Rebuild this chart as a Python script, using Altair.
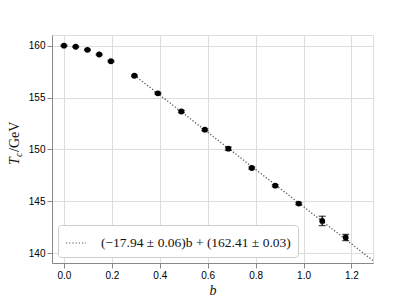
import altair as alt
import pandas as pd

# data
b_vals = [0.0, 0.049, 0.098, 0.147, 0.196, 0.294, 0.392, 0.49, 0.588, 0.686, 0.784, 0.882, 0.98, 1.078, 1.176]
tc_vals = [160.0, 159.9, 159.6, 159.15, 158.5, 157.1, 155.4, 153.65, 151.9, 150.07, 148.2, 146.5, 144.77, 143.1, 141.5]
tc_err = [0.05, 0.05, 0.06, 0.06, 0.07, 0.08, 0.08, 0.1, 0.1, 0.15, 0.1, 0.1, 0.1, 0.45, 0.3]

fit_b = [0.294, 1.29]
fit_tc = [157.14, 139.27]
fit_label = "(\u221217.94 \u00b1 0.06)b + (162.41 \u00b1 0.03)"

x_ticks = [0.0, 0.2, 0.4, 0.6, 0.8, 1.0, 1.2]
y_ticks = [140, 145, 150, 155, 160]

df = pd.DataFrame({"b": b_vals, "tc": tc_vals, "err": tc_err})
df["lo"] = df["tc"] - df["err"]
df["hi"] = df["tc"] + df["err"]
fit_df = pd.DataFrame({"b": fit_b, "tc": fit_tc, "label": [fit_label] * len(fit_b)})

SERIF = "Liberation Serif"

xscale = alt.Scale(domain=[-0.05, 1.29], nice=False, zero=False)
yscale = alt.Scale(domain=[139.04, 161.03], nice=False, zero=False)

xaxis = alt.Axis(values=x_ticks, format=".1f", title="b", titleFontStyle="italic",
                 titleFont=SERIF, titleFontSize=14, titleFontWeight="normal", titlePadding=3,
                 titleColor="#111111")
yaxis = alt.Axis(values=y_ticks, format="d", title=None)

line = alt.Chart(fit_df).mark_line(strokeDash=[1.2, 2], strokeWidth=1.3, clip=True).encode(
    x=alt.X("b:Q", scale=xscale, axis=xaxis),
    y=alt.Y("tc:Q", scale=yscale, axis=yaxis),
    color=alt.Color("label:N", scale=alt.Scale(range=["#555555"]), title=None,
                    legend=alt.Legend(orient="bottom-left", offset=6, fillColor="white",
                                      strokeColor="#cccccc", cornerRadius=3, padding=7,
                                      symbolType="stroke", symbolSize=400, symbolStrokeWidth=1.2,
                                      symbolDash=[1.2, 2], symbolStrokeColor="#555555",
                                      labelFont=SERIF, labelFontSize=13.5, labelColor="#111111",
                                      labelOffset=14, labelLimit=400)),
)

bars = alt.Chart(df).mark_rule(color="black", strokeWidth=1.3).encode(
    x="b:Q", y="lo:Q", y2="hi:Q"
)
cap_lo = alt.Chart(df).mark_tick(color="black", orient="horizontal", size=7, thickness=1.3).encode(
    x="b:Q", y="lo:Q"
)
cap_hi = alt.Chart(df).mark_tick(color="black", orient="horizontal", size=7, thickness=1.3).encode(
    x="b:Q", y="hi:Q"
)
pts = alt.Chart(df).mark_circle(color="black", size=34, opacity=1).encode(
    x="b:Q", y="tc:Q"
)

# y-axis title with subscript: T_c/GeV
t_main = alt.Chart(pd.DataFrame({"t": ["T"]})).mark_text(
    angle=270, align="left", baseline="alphabetic", font=SERIF,
    fontStyle="italic", fontSize=14, color="#111111").encode(
    text="t:N", x=alt.value(-33), y=alt.value(130))
t_sub = alt.Chart(pd.DataFrame({"t": ["c"]})).mark_text(
    angle=270, align="left", baseline="alphabetic",
    font=SERIF, fontStyle="italic", fontSize=10, color="#111111").encode(
    text="t:N", x=alt.value(-30), y=alt.value(122))
t_rest = alt.Chart(pd.DataFrame({"t": ["/GeV"]})).mark_text(
    angle=270, align="left", baseline="alphabetic",
    font=SERIF, fontSize=14, color="#111111").encode(
    text="t:N", x=alt.value(-33), y=alt.value(117))

chart = alt.layer(line, bars, cap_lo, cap_hi, pts, t_main, t_sub, t_rest).properties(
    width=321, height=228,
    autosize=alt.AutoSizeParams(type="none"),
    padding={"left": 44, "top": 27, "right": 30, "bottom": 34},
).configure_view(
    stroke="#222222", strokeWidth=1.1
).configure_axis(
    grid=True, gridColor="#d0d0d0", gridDash=[1.5, 1.5], gridWidth=0.9,
    domain=False, tickColor="#111111", tickSize=3.5, tickWidth=0.9,
    labelFont=SERIF, labelFontSize=12.5, labelColor="#222222", labelPadding=3,
).configure(background="white")

chart.save("out.html", embed_options={"renderer": "svg", "actions": False})
